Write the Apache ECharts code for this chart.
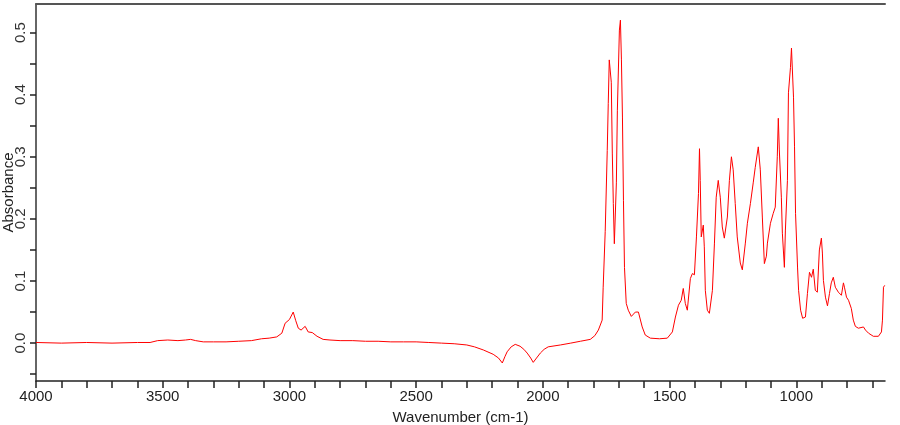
<!DOCTYPE html>
<html>
<head>
<meta charset="utf-8">
<script src="https://cdn.jsdelivr.net/npm/echarts@6/dist/echarts.min.js"></script>
<style>html,body{margin:0;padding:0;background:#fff}#c{width:900px;height:425px}</style>
</head>
<body>
<div id="c"></div>
<script>
const wavenumbers = [4000,3900,3800,3700,3600,3550,3520,3480,3440,3410,3390,3370,3340,3300,3250,3200,3150,3110,3080,3050,3030,3017,3000,2985,2975,2965,2954,2938,2926,2910,2891,2867,2840,2800,2750,2700,2650,2600,2550,2500,2450,2400,2350,2300,2270,2235,2196,2175,2160,2150,2141,2125,2109,2090,2075,2062,2048,2038,2025,2010,1995,1979,1931,1890,1852,1813,1795,1781,1766,1762,1754,1746,1742,1738,1730,1726,1722,1718,1710,1706,1698,1694,1690,1686,1682,1678,1671,1663,1651,1635,1623,1608,1596,1576,1540,1509,1489,1477,1465,1454,1446,1438,1430,1418,1410,1402,1394,1386,1382,1379,1375,1367,1363,1359,1351,1343,1331,1323,1316,1308,1300,1292,1284,1272,1264,1256,1249,1241,1233,1221,1213,1201,1193,1181,1170,1162,1150,1142,1134,1126,1118,1114,1102,1091,1083,1075,1071,1067,1059,1055,1047,1043,1035,1031,1023,1019,1011,1007,1003,995,991,983,975,964,956,948,940,933,925,917,909,901,897,893,885,877,869,862,854,846,834,822,814,810,802,794,783,775,767,755,735,727,715,696,676,664,660,656,651];
const absorbance = [0.001,0.000,0.001,0.000,0.001,0.001,0.004,0.005,0.004,0.005,0.006,0.004,0.002,0.002,0.002,0.003,0.004,0.007,0.008,0.010,0.016,0.032,0.038,0.050,0.036,0.024,0.021,0.027,0.018,0.017,0.011,0.006,0.005,0.004,0.004,0.003,0.003,0.002,0.002,0.002,0.001,0.000,-0.001,-0.003,-0.006,-0.011,-0.018,-0.024,-0.032,-0.022,-0.014,-0.006,-0.002,-0.005,-0.010,-0.016,-0.024,-0.031,-0.024,-0.016,-0.010,-0.006,-0.003,0.000,0.003,0.006,0.012,0.021,0.037,0.09,0.18,0.31,0.386,0.456,0.42,0.306,0.225,0.16,0.258,0.375,0.504,0.52,0.456,0.364,0.23,0.122,0.064,0.053,0.043,0.05,0.05,0.026,0.013,0.008,0.007,0.008,0.018,0.042,0.061,0.069,0.088,0.064,0.053,0.104,0.112,0.11,0.171,0.241,0.313,0.262,0.171,0.19,0.155,0.085,0.053,0.048,0.085,0.161,0.235,0.262,0.235,0.187,0.169,0.203,0.262,0.3,0.279,0.225,0.171,0.129,0.118,0.161,0.193,0.225,0.258,0.283,0.316,0.279,0.203,0.128,0.14,0.161,0.193,0.209,0.219,0.3,0.362,0.311,0.235,0.177,0.122,0.182,0.262,0.403,0.444,0.475,0.396,0.316,0.209,0.121,0.085,0.053,0.04,0.042,0.08,0.114,0.106,0.119,0.085,0.082,0.15,0.169,0.145,0.101,0.074,0.06,0.08,0.097,0.106,0.09,0.082,0.077,0.097,0.09,0.074,0.069,0.056,0.037,0.027,0.024,0.026,0.021,0.016,0.011,0.011,0.018,0.037,0.09,0.093];
const xTickValues = [700,800,900,1000,1100,1200,1300,1400,1500,1600,1700,1800,1900,2000,2100,2200,2300,2400,2500,2600,2700,2800,2900,3000,3100,3200,3300,3400,3500,3600,3700,3800,3900,4000];
const xLabelValues = [1000,1500,2000,2500,3000,3500,4000];
const yTickValues = [-0.05,0,0.05,0.1,0.15,0.2,0.25,0.3,0.35,0.4,0.45,0.5];
const yLabelValues = [0,0.1,0.2,0.3,0.4,0.5];

const points = wavenumbers.map((w, i) => [w, absorbance[i]]);
const chart = echarts.init(document.getElementById('c'), null, {renderer: 'canvas'});
const font = 'Liberation Sans, Arial, sans-serif';
chart.setOption({
  animation: false,
  backgroundColor: '#fff',
  grid: {left: 36, right: 15, top: 4, bottom: 44, containLabel: false, outerBoundsMode: 'none'},
  xAxis: [{
    type: 'value', inverse: true, min: 650, max: 4000,
    name: 'Wavenumber (cm-1)', nameLocation: 'middle', nameGap: 29, nameMoveOverlap: false,
    nameTextStyle: {color: '#222', fontSize: 15, fontFamily: font},
    axisLine: {show: true, onZero: false, lineStyle: {color: '#222', width: 1.5}},
    axisTick: {show: true, inside: false, length: 7, customValues: xTickValues, lineStyle: {color: '#222', width: 1.5}},
    axisLabel: {show: true, customValues: xLabelValues, margin: 8, color: '#222', fontSize: 15, fontFamily: font,
      formatter: v => String(Math.round(v)), showMinLabel: true, showMaxLabel: true, hideOverlap: false},
    splitLine: {show: false}
  }, {
    type: 'value', position: 'top', inverse: true, min: 650, max: 4000,
    axisLine: {show: true, onZero: false, lineStyle: {color: '#555', width: 2}},
    axisTick: {show: false}, axisLabel: {show: false}, splitLine: {show: false}
  }],
  yAxis: {
    type: 'value', min: -0.061, max: 0.546,
    name: 'Absorbance', nameLocation: 'middle', nameGap: 20, nameRotate: 90, nameMoveOverlap: false,
    nameTextStyle: {color: '#222', fontSize: 15, fontFamily: font},
    axisLine: {show: true, onZero: false, lineStyle: {color: '#333', width: 1.5}},
    axisTick: {show: true, inside: false, length: 6, customValues: yTickValues, lineStyle: {color: '#222', width: 1.5}},
    axisLabel: {show: true, rotate: 90, customValues: yLabelValues, margin: 8, color: '#333', fontSize: 15, fontFamily: font,
      formatter: v => v.toFixed(1), hideOverlap: false},
    splitLine: {show: false}
  },
  series: [{
    type: 'line', xAxisIndex: 0, data: points, showSymbol: false, symbol: 'none',
    lineStyle: {color: '#ff0000', width: 1}, silent: true
  }]
});
</script>
</body>
</html>
